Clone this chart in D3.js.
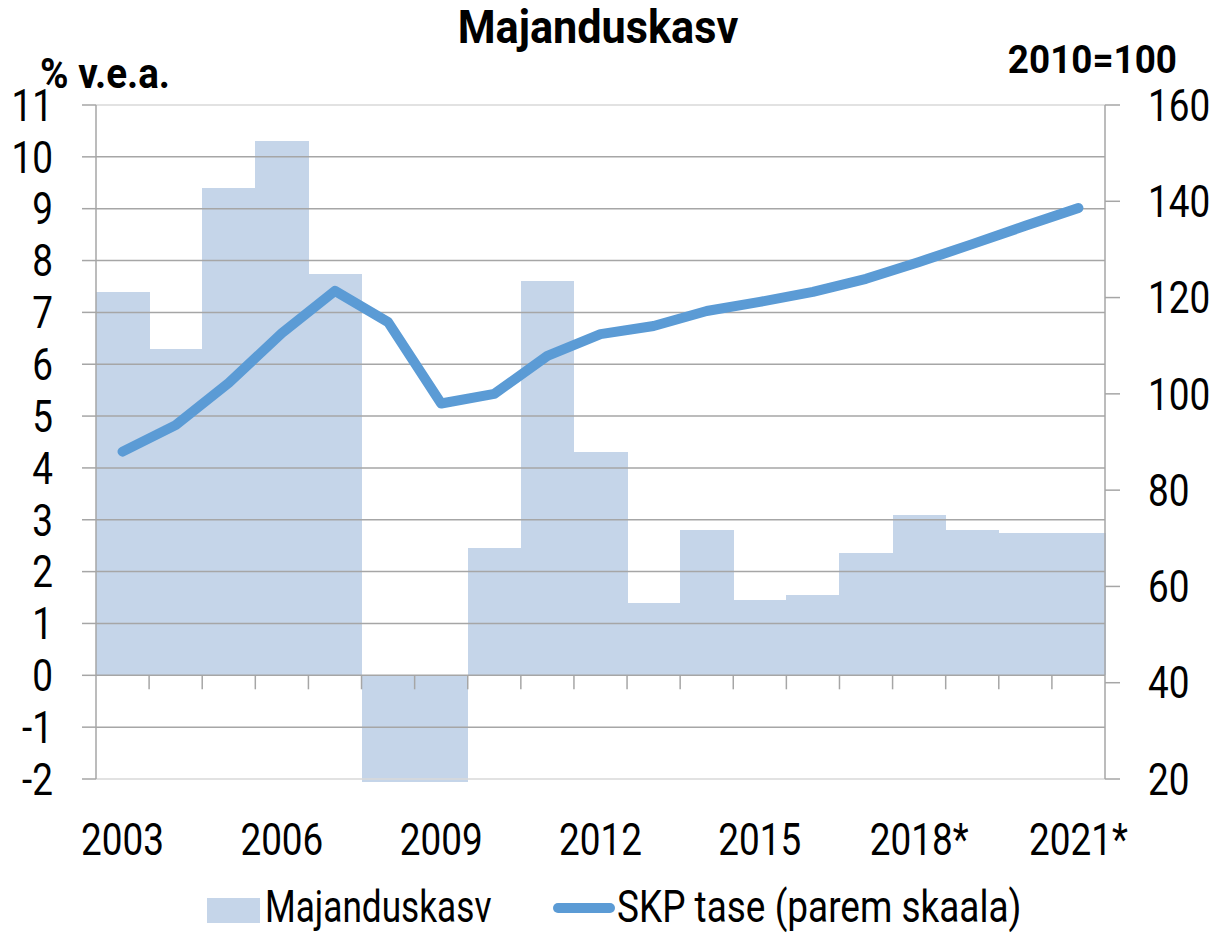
<!DOCTYPE html>
<html>
<head>
<meta charset="utf-8">
<script src="https://d3js.org/d3.v7.min.js"></script>
<style>
  body { margin: 0; background: #fff; }
  text { font-family: Roboto, "Noto Sans", sans-serif; fill: #000; }
</style>
</head>
<body>
<svg width="1217" height="933"></svg>
<script>
// data
var years = ["2003","2004","2005","2006","2007","2008","2009","2010","2011","2012",
             "2013","2014","2015","2016","2017","2018","2019","2020","2021"];
var xLabels = ["2003","","","2006","","","2009","","","2012","","","2015","","","2018*","","","2021*"];
// annual growth, % (2008 and 2009 run off the bottom of the axis)
var growth = [7.4, 6.3, 9.4, 10.3, 7.75, -2.06, -2.06, 2.45, 7.6, 4.3,
              1.4, 2.8, 1.45, 1.55, 2.35, 3.1, 2.8, 2.75, 2.75];
// GDP level, 2010=100 (right scale)
var gdp = [88, 93.5, 102.3, 112.6, 121.4, 114.9, 98, 100, 107.9, 112.4,
           114.1, 117.2, 119.1, 121.2, 123.9, 127.4, 131.1, 134.9, 138.6];
var leftTicks = d3.range(-2, 12);
var rightTicks = [20, 40, 60, 80, 100, 120, 140, 160];

var pL = 96, pR = 1105, pT = 105, pB = 779;
var barColor = "#c5d5e9", lineColor = "#5b9bd5", gridColor = "#a6a6a6";
var SX = 0.82; // squeeze text to look like a condensed face

var svg = d3.select("svg");

var x = d3.scaleBand().domain(years).range([pL, pR]).padding(0);
var yL = d3.scaleLinear().domain([-2, 11]).range([pB, pT]);
var yR = d3.scaleLinear().domain([20, 160]).range([pB, pT]);

function place(sel, px, py, sx) {
  return sel.attr("transform", "translate(" + px + "," + py + ") scale(" + sx + ",1)");
}

// bars
svg.append("g").attr("shape-rendering", "crispEdges").selectAll("rect")
  .data(growth)
  .join("rect")
    .attr("x", function(d, i) { return x(years[i]); })
    .attr("width", x.bandwidth() + 0.5)
    .attr("y", function(d) { return yL(Math.max(0, d)); })
    .attr("height", function(d) { return Math.abs(yL(d) - yL(0)); })
    .attr("fill", barColor);

// gridlines (drawn over the bars, as in the original)
svg.append("g").selectAll("line")
  .data(leftTicks)
  .join("line")
    .attr("x1", pL).attr("x2", pR)
    .attr("y1", function(d) { return yL(d); })
    .attr("y2", function(d) { return yL(d); })
    .attr("stroke", function(d) { return (d === -2 || d === 11) ? "#d9d9d9" : gridColor; })
    .attr("stroke-width", 1.5);

// category ticks on the zero line
svg.append("g").selectAll("line")
  .data(years.slice(1))
  .join("line")
    .attr("x1", function(d) { return x(d); })
    .attr("x2", function(d) { return x(d); })
    .attr("y1", yL(0)).attr("y2", yL(0) + 14)
    .attr("stroke", gridColor).attr("stroke-width", 1.5);

// left axis
var gL = svg.append("g");
gL.append("line").attr("x1", pL).attr("x2", pL).attr("y1", pT).attr("y2", pB)
  .attr("stroke", gridColor).attr("stroke-width", 1.5);
gL.selectAll("line.t").data(leftTicks).join("line").attr("class", "t")
  .attr("x1", pL - 14).attr("x2", pL)
  .attr("y1", function(d) { return yL(d); }).attr("y2", function(d) { return yL(d); })
  .attr("stroke", gridColor).attr("stroke-width", 1.5);
gL.selectAll("text").data(leftTicks).join("text")
  .attr("text-anchor", "end").attr("dy", "0.35em")
  .style("font-size", "45px")
  .text(function(d) { return d; })
  .each(function(d) { place(d3.select(this), 53, yL(d), SX); });

// right axis
var gR = svg.append("g");
gR.append("line").attr("x1", pR).attr("x2", pR).attr("y1", pT).attr("y2", pB)
  .attr("stroke", gridColor).attr("stroke-width", 1.5);
gR.selectAll("line.t").data(rightTicks).join("line").attr("class", "t")
  .attr("x1", pR).attr("x2", pR + 15)
  .attr("y1", function(d) { return yR(d); }).attr("y2", function(d) { return yR(d); })
  .attr("stroke", gridColor).attr("stroke-width", 1.5);
gR.selectAll("text").data(rightTicks).join("text")
  .attr("text-anchor", "start").attr("dy", "0.35em")
  .style("font-size", "45px")
  .text(function(d) { return d; })
  .each(function(d) { place(d3.select(this), 1148, yR(d), SX); });

// x labels
svg.append("g").selectAll("text")
  .data(years)
  .join("text")
    .attr("text-anchor", "middle")
    .style("font-size", "45px")
    .text(function(d, i) { return xLabels[i]; })
    .each(function(d) { place(d3.select(this), x(d) + x.bandwidth() / 2, 855, SX); });

// GDP line
var line = d3.line()
  .x(function(d, i) { return x(years[i]) + x.bandwidth() / 2; })
  .y(function(d) { return yR(d); });
svg.append("path")
  .datum(gdp)
  .attr("d", line)
  .attr("fill", "none")
  .attr("stroke", lineColor)
  .attr("stroke-width", 10)
  .attr("stroke-linejoin", "round")
  .attr("stroke-linecap", "round");

// titles
place(svg.append("text").attr("text-anchor", "middle")
  .style("font-size", "46px").style("font-weight", "bold")
  .text("Majanduskasv"), 598, 43, 0.94);
place(svg.append("text").attr("text-anchor", "start")
  .style("font-size", "42px").style("font-weight", "bold")
  .text("% v.e.a."), 40, 88, 0.92);
place(svg.append("text").attr("text-anchor", "end")
  .style("font-size", "38px").style("font-weight", "bold")
  .text("2010=100"), 1177, 73, 0.97);

// legend
var lg = svg.append("g");
lg.append("rect").attr("x", 207).attr("y", 898).attr("width", 53).attr("height", 25).attr("fill", barColor);
place(lg.append("text").style("font-size", "44px").text("Majanduskasv"), 265, 922, 0.8);
lg.append("line").attr("x1", 558).attr("x2", 610).attr("y1", 908).attr("y2", 908)
  .attr("stroke", lineColor).attr("stroke-width", 10).attr("stroke-linecap", "round");
place(lg.append("text").style("font-size", "44px").text("SKP tase (parem skaala)"), 617, 922, 0.84);
</script>
</body>
</html>
